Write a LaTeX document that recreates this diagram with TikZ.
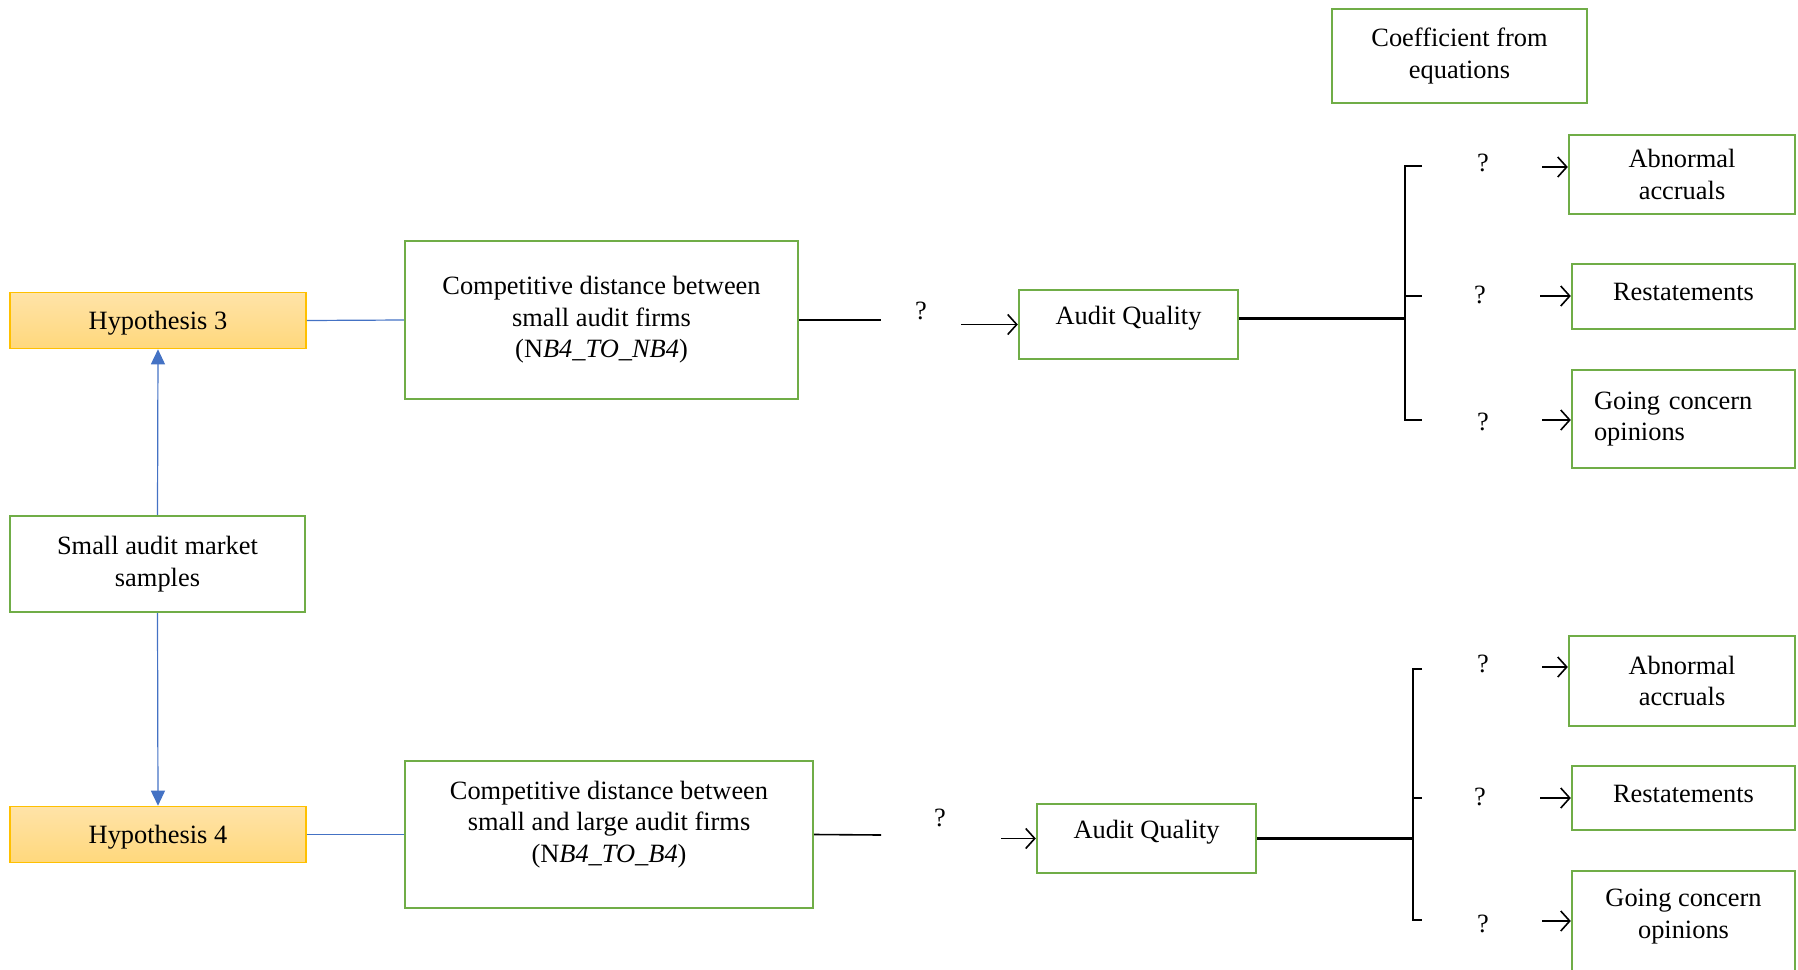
\documentclass[tikz,border=0pt]{standalone}
\usepackage{fontspec}
\setmainfont{Liberation Serif}
\usetikzlibrary{arrows.meta}

\definecolor{boxgreen}{HTML}{70AD47}
\definecolor{hypedge}{HTML}{FFC000}
\definecolor{hyptop}{HTML}{FFE3A8}
\definecolor{hypbot}{HTML}{FFD87C}
\definecolor{linkblue}{HTML}{4472C4}

\newcommand{\mainfs}{\fontsize{13.2}{15.8}\selectfont}

\begin{document}
\begin{tikzpicture}[x=0.5pt,y=-0.5pt,
  box/.style={draw=boxgreen,line width=1.2pt,fill=white,align=center,inner sep=2pt,font=\mainfs},
  hyp/.style={draw=hypedge,line width=0.8pt,top color=hyptop,bottom color=hypbot,
    minimum width=148pt,minimum height=28pt,text depth=0pt,font=\mainfs},
  link/.style={draw=linkblue,line width=0.6pt},
  bluetip/.style={link,-{Triangle[length=7.5pt,width=7pt]}},
  flow/.style={line width=0.8pt},
  flowarrow/.style={line width=0.8pt,-{Straight Barb[length=4.5pt,width=10pt]}},
  trunk/.style={line width=1.5pt},
  brace/.style={line width=0.8pt},
  qmark/.style={font=\mainfs}]

\useasboundingbox (0,0) rectangle (1798,969);

% Left column
\node[hyp] (hypA) at (158,320.5) {Hypothesis 3};
\node[box,minimum width=147.5pt,minimum height=48pt] (samples) at (157.5,564) {Small audit market\\samples};
\node[hyp] (hypB) at (158,834.5) {Hypothesis 4};

\draw[bluetip] (samples.north) -- (hypA.south);
\draw[bluetip] (samples.south) -- (hypB.north);

% Distance measures
\node[box,minimum width=196.5pt,minimum height=79pt] (compA) at (601.5,320)
  {Competitive distance between\\small audit firms\\(N\textit{B4\_TO\_NB4})};
\node[box,minimum width=204pt,minimum height=73.5pt,text depth=13pt] (compB) at (609,834.5)
  {Competitive distance between\\small and large audit firms\\(N\textit{B4\_TO\_B4})};

\draw[link] (hypA.east) -- (compA.west);
\draw[link] (hypB.east) -- (compB.west);

% Audit quality
\node[box,minimum width=109.5pt,minimum height=34.5pt,text depth=9pt] (qualA) at (1128.5,324.5) {Audit Quality};
\node[box,minimum width=109.5pt,minimum height=34.5pt,text depth=9pt] (qualB) at (1146.5,838.5) {Audit Quality};

\coordinate (endA) at (881,320);
\coordinate (startA) at (961,324.5);
\node[qmark] (qA) at (921,311) {?};
\draw[flow] (compA.east) -- (endA);
\draw[flowarrow] (startA) -- (qualA.west);

\coordinate (endB) at (881,835);
\coordinate (startB) at (1001,838.5);
\node[qmark] (qB) at (940,818) {?};
\draw[flow] (compB.east) -- (endB);
\draw[flowarrow] (startB) -- (qualB.west);

% Header
\node[box,minimum width=127.5pt,minimum height=47pt] (coef) at (1459.5,56) {Coefficient from\\equations};

% Outcome boxes, top
\node[box,minimum width=113pt,minimum height=39.5pt] (abnA) at (1682,174.5) {Abnormal\\accruals};
\node[box,minimum width=111.5pt,minimum height=32.5pt,text depth=4.5pt] (restA) at (1683.5,296.5) {Restatements};
\node[box,align=left,text width=89.5pt,inner xsep=11pt,minimum height=49pt] (goingA) at (1683.5,419)
  {Going concern\\opinions\\[6pt]};

% Outcome boxes, bottom
\node[box,minimum width=113pt,minimum height=45pt] (abnB) at (1682,681) {Abnormal\\accruals};
\node[box,minimum width=111.5pt,minimum height=32pt,text depth=4.5pt] (restB) at (1683.5,798) {Restatements};
\node[box,minimum width=111.5pt,minimum height=50.5pt,text depth=8pt] (goingB) at (1683.5,921.5) {Going concern\\opinions};

% Bracket, top
\coordinate (jA) at (1405,318);
\coordinate (tA1) at (1422,166);
\coordinate (tA2) at (1422,296);
\coordinate (tA3) at (1422,420);
\draw[trunk] (qualA.east |- jA) -- (jA);
\draw[brace] (tA1) -- (tA1 -| jA) -- (tA3 -| jA) -- (tA3);
\draw[brace] (tA2 -| jA) -- (tA2);

\node[qmark] (qA1) at (1483,163) {?};
\node[qmark] (qA2) at (1480,295) {?};
\node[qmark] (qA3) at (1483,422) {?};

\coordinate (aA1) at (1542,167);
\coordinate (aA2) at (1540,296);
\coordinate (aA3) at (1542,420);
\draw[flowarrow] (aA1) -- (aA1 -| abnA.west);
\draw[flowarrow] (aA2) -- (aA2 -| restA.west);
\draw[flowarrow] (aA3) -- (aA3 -| goingA.west);

% Bracket, bottom
\coordinate (jB) at (1413,838);
\coordinate (tB1) at (1422,669);
\coordinate (tB2) at (1422,798);
\coordinate (tB3) at (1422,920);
\draw[trunk] (qualB.east) -- (qualB.east -| jB);
\draw[brace] (tB1) -- (tB1 -| jB) -- (tB3 -| jB) -- (tB3);
\draw[brace] (tB2 -| jB) -- (tB2);

\node[qmark] (qB1) at (1483,664) {?};
\node[qmark] (qB2) at (1480,797) {?};
\node[qmark] (qB3) at (1483,924) {?};

\coordinate (aB1) at (1542,667);
\coordinate (aB2) at (1540,798);
\coordinate (aB3) at (1542,921);
\draw[flowarrow] (aB1) -- (aB1 -| abnB.west);
\draw[flowarrow] (aB2) -- (aB2 -| restB.west);
\draw[flowarrow] (aB3) -- (aB3 -| goingB.west);

\end{tikzpicture}
\end{document}
